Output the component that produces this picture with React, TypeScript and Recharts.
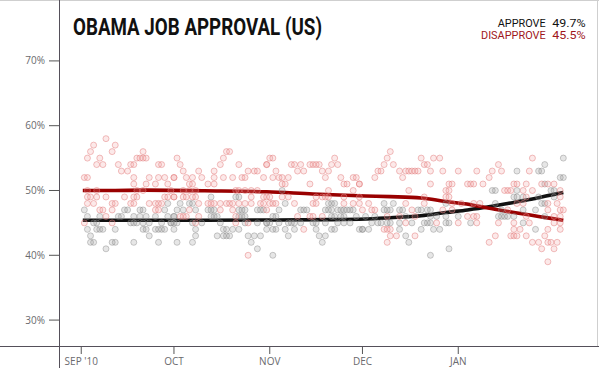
import React from "react";
import { ComposedChart, Scatter, Line, XAxis, YAxis } from "recharts";

// day offset from Sep 1 2010
const xTicks = [0, 30, 61, 91, 122];
const xTickLabels: Record<number, string> = { 0: "SEP '10", 30: "OCT", 61: "NOV", 91: "DEC", 122: "JAN" };
const yTicks = [30, 40, 50, 60, 70];

const approvePolls: [number, number][] = [
  [1,47],[14,47],[15,47],[19,47],[20,47],[27,47],[2,46],[6,46],[12,46],[13,46],[17,46],[19,46],[21,46],[24,46],[28,46],[30,46],[4,45],[5,45],[16,45],[17,45],[18,45],[20,45],[22,45],[26,45],[29,45],[2,44],[5,44],[6,44],[7,44],[11,44],[20,44],[21,44],[24,44],[25,44],[26,44],[27,44],[30,44],[3,43],[22,43],[3,42],[4,42],[10,42],[11,42],[17,42],[25,42],[8,41],[28,48],
  [42,49],[50,49],[51,49],[32,48],[35,48],[36,48],[31,47],[33,47],[37,47],[41,47],[42,47],[43,47],[51,47],[52,47],[53,47],[57,47],[58,47],[59,47],[30,46],[42,46],[43,46],[44,46],[51,46],[52,46],[53,46],[29,45],[30,45],[31,45],[36,45],[39,45],[45,45],[53,45],[57,45],[60,45],[37,44],[46,44],[47,44],[49,44],[51,44],[60,44],[37,43],[44,43],[46,43],[47,43],[48,43],[54,43],[56,43],[58,43],[31,42],[36,42],[55,42],[57,41],
  [65,50],[66,48],[80,48],[81,48],[82,48],[64,47],[71,47],[72,47],[73,47],[79,47],[80,47],[81,47],[83,47],[84,47],[85,47],[86,47],[87,47],[88,47],[62,46],[63,46],[81,46],[82,46],[84,46],[85,46],[89,46],[60,45],[61,45],[64,45],[67,45],[68,45],[69,45],[71,45],[75,45],[76,45],[79,45],[83,45],[85,45],[87,45],[62,44],[63,44],[66,44],[69,44],[76,44],[81,44],[82,44],[90,44],[91,44],[67,43],[77,43],[79,43],[78,42],[62,40],
  [98,48],[101,48],[118,48],[98,47],[99,47],[100,47],[103,47],[104,47],[109,47],[110,47],[112,47],[113,47],[92,46],[95,46],[105,46],[113,46],[115,46],[118,46],[94,45],[96,45],[97,45],[99,45],[100,45],[103,45],[107,45],[111,45],[112,45],[113,45],[118,45],[119,45],[91,44],[93,44],[103,44],[110,44],[114,44],[116,44],[105,43],[106,42],[119,41],[113,40],
  [150,54],[141,53],[148,53],[149,53],[150,51],[133,50],[134,50],[141,50],[152,50],[153,50],[140,49],[141,49],[143,49],[148,49],[153,49],[134,48],[149,48],[150,48],[136,47],[143,47],[147,47],[122,46],[135,46],[136,46],[137,46],[138,46],[140,46],[126,45],[147,44],[156,55],[155,52],[156,52],[143,45],[150,46],
];

const disapprovePolls: [number, number][] = [
  [8,58],[4,57],[11,57],[3,56],[10,56],[20,56],[2,55],[6,55],[18,55],[19,55],[20,55],[21,55],[5,54],[7,54],[12,54],[16,54],[17,54],[25,54],[26,54],[13,53],[15,53],[1,52],[2,52],[17,52],[22,52],[25,52],[27,52],[30,52],[17,51],[21,51],[24,51],[28,51],[2,50],[5,50],[18,50],[20,50],[2,49],[3,49],[5,49],[8,49],[14,49],[17,49],[18,49],[27,49],[28,49],[30,49],[2,48],[4,48],[10,48],[11,48],[16,48],[17,48],[22,48],[24,48],[25,48],[26,48],[6,47],[7,47],[10,47],[24,47],[25,47],[8,46],[1,45],[10,45],
  [47,56],[48,56],[31,55],[46,55],[61,55],[32,54],[45,54],[51,54],[60,54],[33,53],[38,53],[43,53],[54,53],[56,53],[57,53],[30,52],[34,52],[36,52],[39,52],[43,52],[46,52],[49,52],[52,52],[53,52],[59,52],[35,51],[36,51],[41,51],[43,51],[29,50],[33,50],[35,50],[37,50],[50,50],[51,50],[53,50],[55,50],[57,50],[30,49],[33,49],[34,49],[36,49],[37,49],[55,49],[59,49],[60,49],[38,48],[41,48],[42,48],[43,48],[45,48],[47,48],[48,48],[49,48],[51,48],[53,48],[55,48],[58,48],[59,48],[61,48],[35,47],[45,47],[49,47],[32,46],[33,46],[34,46],[38,46],[50,46],[37,45],[50,45],[54,45],[54,40],
  [62,55],[82,55],[60,54],[68,54],[69,54],[71,54],[74,54],[75,54],[76,54],[77,54],[81,54],[83,54],[63,53],[70,53],[72,53],[78,53],[80,53],[62,52],[64,52],[65,52],[67,52],[79,52],[84,52],[88,52],[89,52],[65,51],[66,51],[74,51],[85,51],[86,51],[90,51],[80,50],[88,50],[61,49],[65,49],[67,49],[76,49],[78,49],[79,49],[80,49],[85,49],[90,49],[62,48],[63,48],[69,48],[75,48],[76,48],[85,48],[88,48],[60,47],[91,47],[70,46],[74,46],[75,46],[78,46],[72,44],
  [100,56],[99,55],[110,55],[114,55],[116,55],[98,54],[101,54],[111,54],[112,54],[96,53],[97,53],[103,53],[105,53],[106,53],[107,53],[108,53],[109,53],[113,53],[117,53],[122,53],[95,52],[104,52],[90,51],[113,51],[119,51],[120,51],[106,50],[118,50],[119,50],[111,49],[118,49],[119,49],[90,48],[93,48],[105,48],[111,48],[120,48],[94,47],[95,47],[107,47],[117,47],[120,47],[99,46],[103,46],[108,46],[105,45],[115,45],[98,44],[99,44],[100,44],[100,43],[102,43],[108,43],[99,42],
  [146,55],[135,54],[128,53],[133,53],[136,53],[145,53],[132,52],[125,51],[126,51],[127,51],[130,51],[140,51],[141,51],[144,51],[149,51],[151,51],[153,51],[137,50],[138,50],[139,50],[143,50],[146,50],[155,50],[144,49],[155,49],[123,48],[127,48],[129,48],[141,48],[143,48],[151,48],[154,48],[138,47],[151,47],[155,47],[156,47],[125,46],[127,46],[128,46],[144,46],[153,46],[155,46],[122,45],[128,45],[135,45],[140,45],[145,45],[153,45],[155,45],[140,44],[142,44],[151,44],[155,44],[134,43],[139,43],[140,43],[141,43],[144,43],[150,43],[132,42],[146,42],[148,42],[151,42],[152,42],[154,42],[149,41],[153,41],[151,39],
];

const approveTrend: [number, number][] = [
  [0.5,45.4],[20,45.4],[40,45.4],[60,45.45],[80,45.5],[92,45.6],[100,45.8],[110,46.1],[118,46.6],[125,47.0],[131,47.4],[138,48.0],[145,48.6],[150,49.1],[156,49.7],
];
const disapproveTrend: [number, number][] = [
  [0.5,50.0],[10,50.0],[20,50.05],[40,49.95],[60,49.8],[75,49.45],[92,49.15],[100,49.05],[110,48.85],[118,48.3],[124,47.95],[130,47.45],[140,46.6],[148,46.0],[156,45.4],
];

const legendItems = [
  { label: "APPROVE", value: "49.7%", color: "#111111", labelLen: 48 },
  { label: "DISAPPROVE", value: "45.5%", color: "#a0161b", labelLen: 64.7 },
];

const toObj = (arr: [number, number][]) => arr.map(([x, y]) => ({ x, y }));

const ApproveDot = (p: any) => (
  <circle cx={p.cx} cy={p.cy} r={3} fill="#8c8c8c" fillOpacity={0.22} stroke="#8c8c8c" strokeOpacity={0.45} strokeWidth={1} />
);
const DisapproveDot = (p: any) => (
  <circle cx={p.cx} cy={p.cy} r={3} fill="#f29a9a" fillOpacity={0.22} stroke="#e48080" strokeOpacity={0.5} strokeWidth={1} />
);

const tickFont = { fontFamily: "'Open Sans', sans-serif", fontSize: 10, fill: "#6a6a6e" };
const narrowFont = "'Liberation Sans Narrow', 'Roboto', sans-serif";

export default function App() {
  return (
    <div style={{ position: "absolute", left: 0, top: 0, width: 599, height: 368, background: "#fff" }}>
      <ComposedChart width={599} height={368} margin={{ top: 0, right: 2, bottom: 0, left: 0 }}>
        <XAxis
          type="number"
          dataKey="x"
          domain={[-7.2, 166.9]}
          ticks={xTicks}
          tickFormatter={(v: number) => xTickLabels[v] ?? ""}
          axisLine={false}
          tickLine={{ stroke: "#555" }}
          tickSize={8}
          tickMargin={4}
          tick={tickFont}
          allowDataOverflow
          height={22}
        />
        <YAxis
          type="number"
          dataKey="y"
          domain={[26, 79.4]}
          ticks={yTicks}
          tickFormatter={(v: number) => `${v}%`}
          axisLine={false}
          tickLine={{ stroke: "#555" }}
          tickSize={10}
          tickMargin={4}
          tick={tickFont}
          allowDataOverflow
          width={59}
        />
        <Scatter data={toObj(approvePolls)} shape={ApproveDot} isAnimationActive={false} />
        <Scatter data={toObj(disapprovePolls)} shape={DisapproveDot} isAnimationActive={false} />
        <Line data={toObj(approveTrend)} dataKey="y" type="monotone" stroke="#111" strokeWidth={3.6} dot={false} isAnimationActive={false} />
        <Line data={toObj(disapproveTrend)} dataKey="y" type="monotone" stroke="#990000" strokeWidth={3.6} dot={false} isAnimationActive={false} />
      </ComposedChart>
      <svg width={599} height={368} style={{ position: "absolute", left: 0, top: 0, pointerEvents: "none" }}>
        <line x1={0} y1={0.5} x2={599} y2={0.5} stroke="#cfcfcf" />
        <line x1={597.5} y1={0} x2={597.5} y2={346} stroke="#cfcfcf" />
        <line x1={0} y1={346.5} x2={599} y2={346.5} stroke="#55505a" />
        <line x1={59.5} y1={0} x2={59.5} y2={368} stroke="#55505a" />
        <text x={73} y={35} fontFamily={narrowFont} fontWeight="bold" fontSize={23} fill="#111" textLength={249} lengthAdjust="spacingAndGlyphs">
          OBAMA JOB APPROVAL (US)
        </text>
        {legendItems.map((it, i) => (
          <g key={it.label} fontFamily={narrowFont} fontSize={11} fill={it.color}>
            <text x={545.7 - it.labelLen} y={26.5 + i * 12.8} textLength={it.labelLen} lengthAdjust="spacingAndGlyphs">{it.label}</text>
            <text x={552.3} y={26.5 + i * 12.8} textLength={33.4} lengthAdjust="spacingAndGlyphs">{it.value}</text>
          </g>
        ))}
      </svg>
    </div>
  );
}
